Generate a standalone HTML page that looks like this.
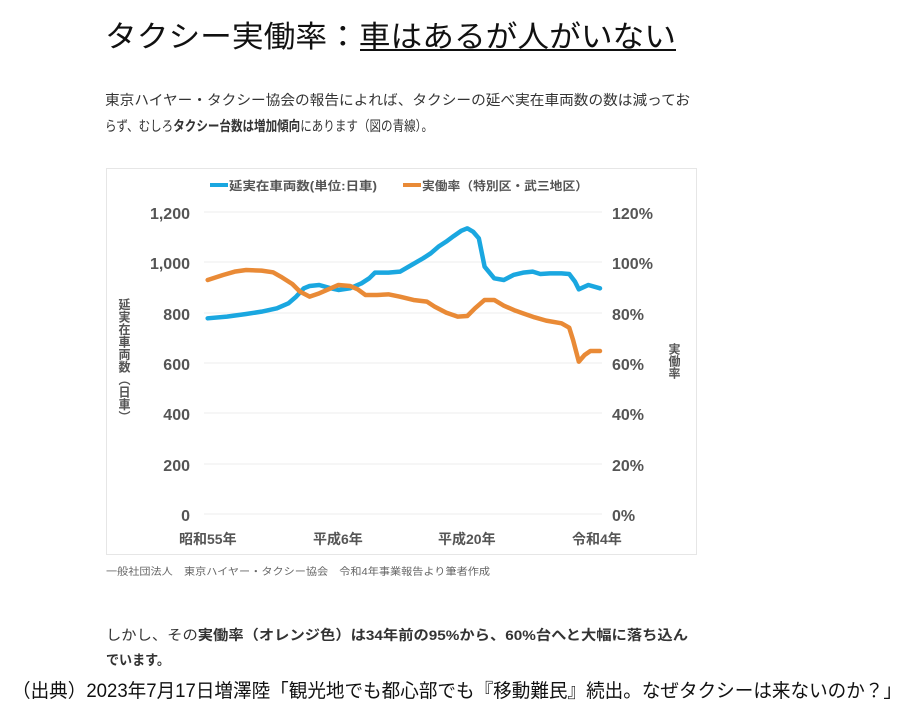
<!DOCTYPE html>
<html><head><meta charset="utf-8"><style>
html,body{margin:0;padding:0;background:#fff;width:915px;height:718px;overflow:hidden}
svg{display:block}
text{font-family:"Liberation Sans","Noto Sans CJK JP",sans-serif}
</style></head><body>
<svg width="915" height="718" viewBox="0 0 915 718" xmlns="http://www.w3.org/2000/svg">
<text x="105" y="47" font-size="30" fill="#111" textLength="571" lengthAdjust="spacingAndGlyphs">タクシー実働率：車はあるが人がいない</text>
<line x1="360" y1="50" x2="676" y2="50" stroke="#111" stroke-width="2"/>
<text x="105" y="105" font-size="14" fill="#333" textLength="585" lengthAdjust="spacingAndGlyphs">東京ハイヤー・タクシー協会の報告によれば、タクシーの延べ実在車両数の数は減ってお</text>
<text x="105" y="131" font-size="14" fill="#333" textLength="328" lengthAdjust="spacingAndGlyphs">らず、むしろ<tspan font-weight="bold">タクシー台数は増加傾向</tspan>にあります（図の青線）。</text>

<rect x="106.5" y="168.5" width="590" height="386" fill="#fff" stroke="#e6e6e6"/>
<g stroke="#ececec" stroke-width="1">
<line x1="204" y1="212" x2="602" y2="212"/><line x1="204" y1="262" x2="602" y2="262"/>
<line x1="204" y1="313" x2="602" y2="313"/><line x1="204" y1="363" x2="602" y2="363"/>
<line x1="204" y1="413" x2="602" y2="413"/><line x1="204" y1="464" x2="602" y2="464"/>
<line x1="204" y1="514" x2="602" y2="514"/>
</g>
<g font-size="16" font-weight="bold" fill="#555" text-anchor="end">
<text x="190" y="219">1,200</text><text x="190" y="269">1,000</text><text x="190" y="320">800</text>
<text x="190" y="370">600</text><text x="190" y="420">400</text><text x="190" y="471">200</text><text x="190" y="521">0</text>
</g>
<g font-size="16" font-weight="bold" fill="#555">
<text x="612" y="219">120%</text><text x="612" y="269">100%</text><text x="612" y="320">80%</text>
<text x="612" y="370">60%</text><text x="612" y="420">40%</text><text x="612" y="471">20%</text><text x="612" y="521">0%</text>
</g>
<g font-size="14" font-weight="bold" fill="#555">
<text x="179" y="544">昭和55年</text><text x="313" y="544">平成6年</text><text x="438" y="544">平成20年</text><text x="572" y="544">令和4年</text>
</g>
<text x="124" y="298" font-size="12" font-weight="bold" fill="#555" style="writing-mode:vertical-rl" textLength="125" lengthAdjust="spacingAndGlyphs">延実在車両数（日車）</text>
<text x="674" y="343" font-size="12" font-weight="bold" fill="#555" style="writing-mode:vertical-rl">実働率</text>
<line x1="210" y1="185" x2="228" y2="185" stroke="#1aa7e0" stroke-width="4"/>
<text x="229" y="190" font-size="12" font-weight="bold" fill="#555" textLength="148" lengthAdjust="spacingAndGlyphs">延実在車両数(単位:日車)</text>
<line x1="403" y1="185" x2="421" y2="185" stroke="#e98a36" stroke-width="4"/>
<text x="422" y="190" font-size="12" font-weight="bold" fill="#555" textLength="166" lengthAdjust="spacingAndGlyphs">実働率（特別区・武三地区）</text>

<g transform="translate(100,160) scale(0.3846,0.3333)" fill="none" stroke-linejoin="round" stroke-linecap="round">
<polyline vector-effect="non-scaling-stroke" stroke="#1aa7e0" stroke-width="4.5" points="280,475 330,470 380,462 420,455 460,445 490,430 510,410 530,385 545,378 570,375 600,385 620,390 650,385 680,370 700,355 715,338 750,338 780,335 810,315 840,295 860,280 880,260 900,245 920,228 940,212 955,205 970,215 985,235 1000,320 1025,355 1050,360 1075,345 1100,338 1125,335 1145,342 1170,340 1200,340 1220,342 1235,365 1245,388 1270,375 1300,385"/>
<polyline vector-effect="non-scaling-stroke" stroke="#e98a36" stroke-width="4.5" points="280,360 320,345 350,335 380,330 420,332 450,337 470,350 500,372 520,395 545,410 570,400 600,385 620,375 650,378 670,388 690,405 720,405 750,403 780,410 815,420 850,425 870,440 900,458 930,470 955,468 975,445 1000,420 1025,420 1050,437 1080,452 1100,460 1130,472 1160,482 1200,490 1220,503 1230,540 1245,605 1260,585 1275,573 1300,573"/>
</g>

<text x="106" y="575" font-size="10" fill="#666" textLength="384" lengthAdjust="spacingAndGlyphs">一般社団法人　東京ハイヤー・タクシー協会　令和4年事業報告より筆者作成</text>
<text x="106" y="640" font-size="14" fill="#333" textLength="582" lengthAdjust="spacingAndGlyphs">しかし、その<tspan font-weight="bold">実働率（オレンジ色）は34年前の95%から、60%台へと大幅に落ち込ん</tspan></text>
<text x="106" y="665" font-size="14" font-weight="bold" fill="#333" textLength="64" lengthAdjust="spacingAndGlyphs">でいます。</text>
<text x="12" y="697" font-size="19" fill="#111" textLength="890" lengthAdjust="spacingAndGlyphs">（出典）2023年7月17日増澤陸「観光地でも都心部でも『移動難民』続出。なぜタクシーは来ないのか？」</text>
</svg>
</body></html>
